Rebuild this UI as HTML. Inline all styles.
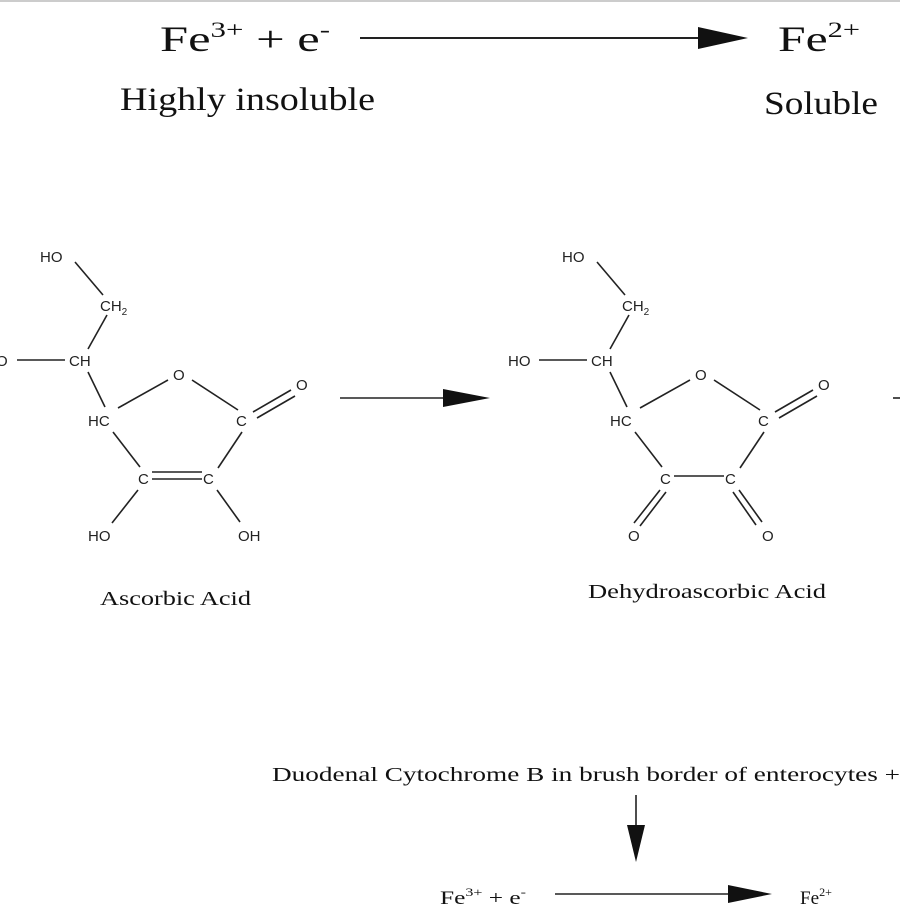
<!DOCTYPE html>
<html><head><style>
html,body{margin:0;padding:0;background:#fff;}
svg{display:block;}
.s{font-family:"Liberation Serif",serif;fill:#111;}
.a{font-family:"Liberation Sans",sans-serif;fill:#222;font-size:15px;}
line{stroke:#222;stroke-width:1.6;}
</style></head><body>
<svg width="900" height="917" viewBox="0 0 900 917" xmlns="http://www.w3.org/2000/svg">
<rect x="0" y="0" width="900" height="2" fill="#ccc"/>
<!-- top equation -->
<text class="s" x="160" y="51" font-size="36" textLength="170" lengthAdjust="spacingAndGlyphs">Fe<tspan font-size="22" dy="-14">3+</tspan><tspan dy="14"> + e</tspan><tspan font-size="22" dy="-14">-</tspan></text>
<line x1="360" y1="38" x2="705" y2="38" style="stroke-width:2"/>
<polygon points="698,27 748,38 698,49" fill="#111"/>
<text class="s" x="778" y="51" font-size="36" textLength="82" lengthAdjust="spacingAndGlyphs">Fe<tspan font-size="22" dy="-14">2+</tspan></text>
<text class="s" x="120" y="110" font-size="33" textLength="255" lengthAdjust="spacingAndGlyphs">Highly insoluble</text>
<text class="s" x="764" y="114" font-size="33" textLength="114" lengthAdjust="spacingAndGlyphs">Soluble</text>

<!-- Ascorbic acid -->
<g>
<text class="a" x="40" y="262">HO</text>
<text class="a" x="100" y="311">CH<tspan font-size="10" dy="4">2</tspan></text>
<text class="a" x="-4" y="366">O</text>
<text class="a" x="69" y="366">CH</text>
<text class="a" x="173" y="380">O</text>
<text class="a" x="296" y="390">O</text>
<text class="a" x="236" y="426">C</text>
<text class="a" x="88" y="426">HC</text>
<text class="a" x="138" y="484">C</text>
<text class="a" x="203" y="484">C</text>
<text class="a" x="88" y="541">HO</text>
<text class="a" x="238" y="541">OH</text>
<line x1="75" y1="262" x2="103" y2="295"/>
<line x1="107" y1="315" x2="88" y2="349"/>
<line x1="17" y1="360" x2="65" y2="360"/>
<line x1="88" y1="372" x2="105" y2="407"/>
<line x1="118" y1="408" x2="168" y2="380"/>
<line x1="192" y1="380" x2="238" y2="410"/>
<line x1="253" y1="412" x2="291" y2="390"/>
<line x1="257" y1="418" x2="295" y2="396"/>
<line x1="242" y1="432" x2="218" y2="468"/>
<line x1="152" y1="472" x2="202" y2="472"/>
<line x1="152" y1="479" x2="202" y2="479"/>
<line x1="113" y1="432" x2="140" y2="467"/>
<line x1="138" y1="490" x2="112" y2="523"/>
<line x1="217" y1="490" x2="240" y2="522"/>
</g>
<text class="s" x="100" y="605" font-size="20" textLength="151" lengthAdjust="spacingAndGlyphs">Ascorbic Acid</text>

<!-- middle arrow -->
<line x1="340" y1="398" x2="450" y2="398"/>
<polygon points="443,389 490,398 443,407" fill="#111"/>
<line x1="893" y1="398" x2="900" y2="398"/>

<!-- Dehydroascorbic acid -->
<g transform="translate(522,0)">
<text class="a" x="40" y="262">HO</text>
<text class="a" x="100" y="311">CH<tspan font-size="10" dy="4">2</tspan></text>
<text class="a" x="-14" y="366">HO</text>
<text class="a" x="69" y="366">CH</text>
<text class="a" x="173" y="380">O</text>
<text class="a" x="296" y="390">O</text>
<text class="a" x="236" y="426">C</text>
<text class="a" x="88" y="426">HC</text>
<text class="a" x="138" y="484">C</text>
<text class="a" x="203" y="484">C</text>
<text class="a" x="106" y="541">O</text>
<text class="a" x="240" y="541">O</text>
<line x1="75" y1="262" x2="103" y2="295"/>
<line x1="107" y1="315" x2="88" y2="349"/>
<line x1="17" y1="360" x2="65" y2="360"/>
<line x1="88" y1="372" x2="105" y2="407"/>
<line x1="118" y1="408" x2="168" y2="380"/>
<line x1="192" y1="380" x2="238" y2="410"/>
<line x1="253" y1="412" x2="291" y2="390"/>
<line x1="257" y1="418" x2="295" y2="396"/>
<line x1="242" y1="432" x2="218" y2="468"/>
<line x1="152" y1="476" x2="202" y2="476"/>
<line x1="113" y1="432" x2="140" y2="467"/>
<line x1="138" y1="490" x2="112" y2="523"/>
<line x1="144" y1="492" x2="118" y2="526"/>
<line x1="217" y1="490" x2="240" y2="522"/>
<line x1="211" y1="492" x2="234" y2="525"/>
</g>
<text class="s" x="588" y="598" font-size="20" textLength="238" lengthAdjust="spacingAndGlyphs">Dehydroascorbic Acid</text>

<!-- bottom -->
<text class="s" x="272" y="781" font-size="20" textLength="628" lengthAdjust="spacingAndGlyphs">Duodenal Cytochrome B in brush border of enterocytes  +</text>
<line x1="636" y1="795" x2="636" y2="830"/>
<polygon points="627,825 636,862 645,825" fill="#111"/>
<text class="s" x="440" y="904" font-size="19" textLength="86" lengthAdjust="spacingAndGlyphs">Fe<tspan font-size="12" dy="-8">3+</tspan><tspan dy="8"> + e</tspan><tspan font-size="12" dy="-8">-</tspan></text>
<line x1="555" y1="894" x2="735" y2="894"/>
<polygon points="728,885 772,894 728,903" fill="#111"/>
<text class="s" x="800" y="904" font-size="19" textLength="32" lengthAdjust="spacingAndGlyphs">Fe<tspan font-size="12" dy="-8">2+</tspan></text>
</svg>
</body></html>
